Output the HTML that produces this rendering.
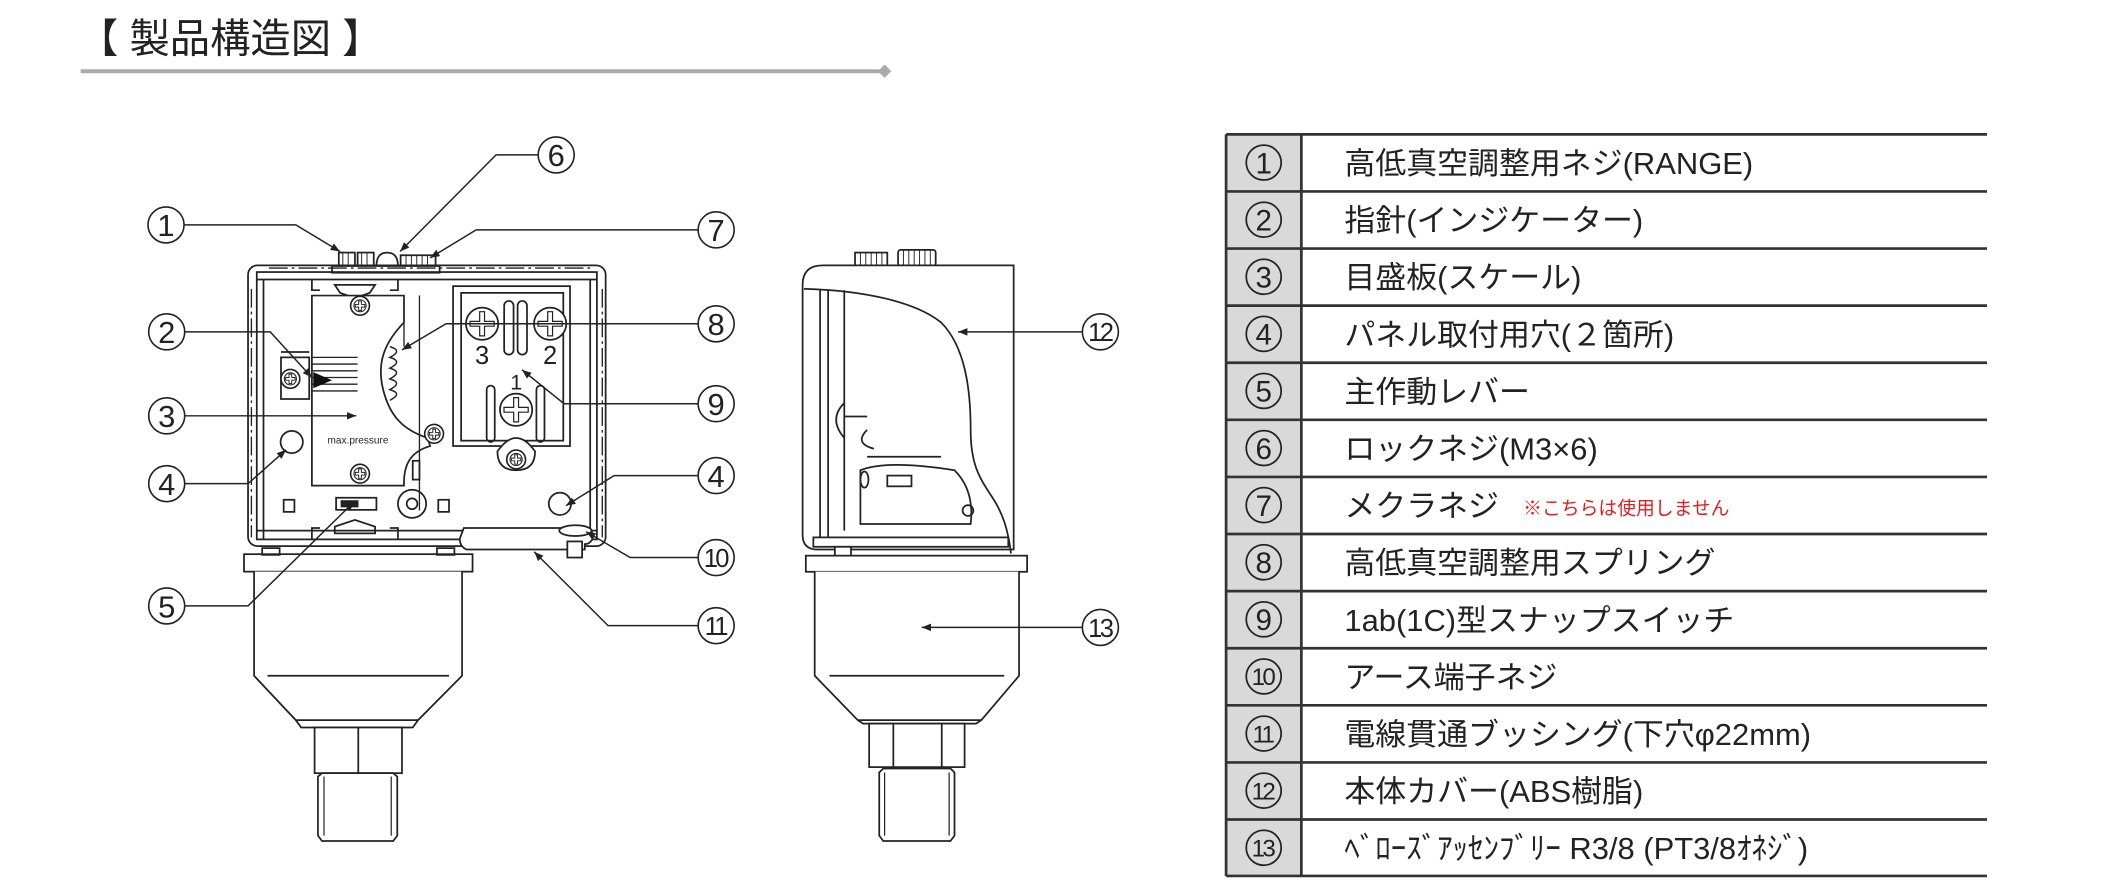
<!DOCTYPE html>
<html><head><meta charset="utf-8">
<style>
html,body{margin:0;padding:0;background:#fff;}
svg{display:block;}
text{font-family:"Liberation Sans","Noto Sans CJK JP",sans-serif;}
</style></head>
<body>
<svg width="2108" height="884" viewBox="0 0 1568 658" preserveAspectRatio="none" xmlns="http://www.w3.org/2000/svg">
<defs>
<marker id="ar" viewBox="0 0 10 10" refX="10" refY="5" markerWidth="7" markerHeight="7" orient="auto-start-reverse" markerUnits="userSpaceOnUse">
<path d="M0,1 L10,5 L0,9 z" fill="#222"/>
</marker>
<g id="scr"><circle r="7" fill="#fff" stroke="#222" stroke-width="1.2"/><circle r="4.5" fill="none" stroke="#222" stroke-width="0.8"/><path d="M-1,-3.5h2v2.5h2.5v2h-2.5v2.5h-2v-2.5h-2.5v-2h2.5z" fill="none" stroke="#222" stroke-width="0.7"/></g>
<g id="bscr"><circle r="12" fill="#fff" stroke="#222" stroke-width="1.3"/><path d="M-1.8,-9h3.6v7.2h7.2v3.6h-7.2v7.2h-3.6v-7.2h-7.2v-3.6h7.2z" fill="none" stroke="#222" stroke-width="0.9"/></g>
</defs>

<!-- Title -->
<text x="58" y="39" font-size="30" fill="#222">【 製品構造図 】</text>
<line x1="60" y1="53" x2="654" y2="53" stroke="#aaa" stroke-width="3"/>
<path d="M653,53 l5,-5 l5,5 l-5,5z" fill="#aaa"/>

<!-- ============ FRONT VIEW ============ -->
<g fill="none" stroke="#222" stroke-width="1.3">
<rect x="252" y="188" width="12" height="10" fill="#fff"/>
<rect x="266" y="188" width="12" height="10" fill="#fff"/>
<path d="M280,198 q0,-10 8,-10 q8,0 8,10" fill="#fff"/>
<rect x="298" y="190" width="26" height="9" fill="#fff"/>
<path d="M302,190v9M306,190v9M310,190v9M314,190v9M318,190v9M255,188v10M259,188v10M269,188v10M273,188v10" stroke-width="0.7"/>
<rect x="247" y="198" width="80" height="5" fill="#fff"/>
<rect x="184.5" y="197.5" width="266" height="209" rx="7"/>
<rect x="191" y="202.5" width="253" height="199"/>
<line x1="191" y1="208" x2="444" y2="208"/>
<line x1="196" y1="208" x2="196" y2="401"/>
<line x1="439" y1="208" x2="439" y2="401"/>
<line x1="191" y1="395" x2="444" y2="395"/>
<path d="M249,212 h30 l-4,6 l-11,4 l-11,-4z"/>
<path d="M232,208 v8 h6 M296,208 v8 h-6"/>
<path d="M232,220 H300.5 V240 C286,255 280,270 285,290 C290,310 300,320 318,326 L320,332 C306,336 300,345 300.5,361.5 H232 Z" fill="#fff"/>
<path d="M290,258 q10,3 0,8 q10,3 0,8 q10,3 0,8 q10,3 0,8 q10,3 0,8" stroke-width="1.1"/>
<path d="M300.5,240 L300.5,258 M312,220 V380" stroke-width="1"/>
<path d="M232,266h34M232,271h34M232,276h34M232,281h34M232,286h34M232,291h34" stroke-width="1"/>
<path d="M233,277 l14,6 l-14,6z" fill="#111" stroke="none"/>
<rect x="209" y="266" width="21" height="31" fill="#fff"/>
<line x1="209" y1="262" x2="230" y2="262"/>
<rect x="337" y="213" width="87" height="119" fill="#fff"/>
<rect x="343" y="218" width="76" height="110"/>
<rect x="375" y="224" width="7" height="40" rx="3.5"/>
<rect x="385" y="224" width="7" height="40" rx="3.5"/>
<rect x="362" y="287" width="6" height="42" rx="3"/>
<rect x="399" y="287" width="6" height="42" rx="3"/>
<path d="M370,336 q14,-20 28,0 q0,14 -14,14 q-14,0 -14,-14z" fill="#fff"/>
<rect x="250" y="370.5" width="30" height="9" fill="#fff"/>
<rect x="254" y="373" width="12" height="4" fill="#222"/>
<circle cx="306.5" cy="375" r="10.5"/>
<circle cx="306.5" cy="375" r="4"/>
<rect x="211" y="372" width="8" height="9"/>
<rect x="326" y="372" width="8" height="9"/>
<rect x="307" y="343" width="5" height="14"/>
<path d="M249,392 l15,-5 l15,5 v5 h-30z"/>
<path d="M232,401 v-8 h6 M296,401 v-8 h-6"/>
<circle cx="217" cy="329" r="8.3" fill="#fff"/>
<circle cx="416.5" cy="375" r="8.3" fill="#fff"/>
<path d="M345,393 h90 a6,6 0 0 1 0,12 v4 h-88 a8,8 0 0 1 -5,-8z" fill="#fff"/>
<ellipse cx="428" cy="395" rx="12" ry="4" fill="#fff"/>
<rect x="422" y="403" width="11" height="12" fill="#fff"/>
<rect x="181.5" y="412.5" width="170" height="13" fill="#fff"/>
<rect x="195" y="408" width="13" height="5"/>
<rect x="325" y="408" width="13" height="5"/>
<path d="M193,425.5 q0,8 10,8 q10,0 10,-8 M320,425.5 q0,8 10,8 q10,0 10,-8"/>
<path d="M189,425.5 V503 L220,536 L224,541.5 H307 L311,536 L343.7,503 V425.5" fill="#fff"/>
<line x1="199" y1="503" x2="334" y2="503"/>
<path d="M220,536 H311"/>
<rect x="234" y="541.5" width="65" height="34" fill="#fff"/>
<line x1="266.5" y1="541.5" x2="266.5" y2="575.5"/>
<path d="M236.5,578 l3,-2.5 h53 l3,2.5 V622 l-3,4 h-53 l-3,-4z" fill="#fff"/>
<path d="M241,578 V622 M291,578 V622" stroke-width="0.9"/>
</g>
<path d="M187,215 V400 M448,215 V400 M200,199.5 H440" fill="none" stroke="#222" stroke-width="1" stroke-dasharray="14,3,2,3"/>
<use href="#scr" x="267.8" y="227.6"/>
<use href="#scr" x="267.8" y="352.6"/>
<use href="#scr" x="216" y="282"/>
<use href="#scr" x="322.9" y="322.9"/>
<use href="#bscr" x="358.6" y="241"/>
<use href="#bscr" x="409.2" y="241"/>
<use href="#bscr" x="383.9" y="305"/>
<use href="#scr" x="383.9" y="342"/>
<text x="358.6" y="271" font-size="19" text-anchor="middle" fill="#222">3</text>
<text x="409.2" y="271" font-size="19" text-anchor="middle" fill="#222">2</text>
<text x="384" y="290" font-size="16" text-anchor="middle" fill="#222">1</text>
<text x="266.3" y="330" font-size="7.5" text-anchor="middle" fill="#222">max.pressure</text>

<!-- ============ SIDE VIEW ============ -->
<g fill="none" stroke="#222" stroke-width="1.3">
<rect x="636" y="188" width="24" height="10" fill="#fff"/>
<rect x="668" y="186" width="28" height="12" rx="2" fill="#fff"/>
<path d="M640,188v10M644,188v10M648,188v10M652,188v10M656,188v10M672,186v12M676,186v12M680,186v12M684,186v12M688,186v12M692,186v12" stroke-width="0.7"/>
<path d="M754,197.5 H612 Q597,197.5 597,212 V398 Q597,409 608,409 H754 Z" fill="#fff"/>
<path d="M598,215 C640,216 680,224 700,240 C718,258 722,290 722,320 C722,345 728,355 738,370 C746,382 750,395 752,412"/>
<path d="M610,216 V400 M616,216 V400 M628,216 V395"/>
<path d="M628,310 H645 M628,300 q-12,12 0,26 M645,320 q-10,10 5,14"/>
<path d="M645,340 H700 M640,350 q20,-8 70,0 q15,15 12,40 H640 Z" fill="#fff"/>
<rect x="660" y="354" width="18" height="8"/>
<ellipse cx="643" cy="357" rx="3" ry="6"/>
<circle cx="720" cy="380" r="4"/>
<rect x="605" y="400" width="145" height="7"/>
<rect x="621" y="407" width="12" height="12" fill="#fff"/>
<rect x="599.4" y="413.6" width="164.6" height="12" fill="#fff"/>
<path d="M608,425.5 q0,8 9,8 q9,0 9,-8 M736,425.5 q0,8 9,8 q9,0 9,-8"/>
<path d="M606,425.5 V503 L638,536 L642,538.6 H726 L730,536 L758,503 V425.5" fill="#fff"/>
<line x1="617" y1="503" x2="747" y2="503"/>
<line x1="638" y1="536" x2="730" y2="536"/>
<rect x="646.5" y="538.6" width="71" height="32.4" fill="#fff"/>
<path d="M664.5,538.6V571 M700.5,538.6V571"/>
<path d="M654,575 l3,-3 h50 l3,3 V622 l-3,4 h-50 l-3,-4z" fill="#fff"/>
<path d="M658,575 V622 M706,575 V622" stroke-width="0.9"/>
</g>

<!-- leaders -->
<g fill="none" stroke="#222" stroke-width="1.1">
<polyline points="136,167.4 220,167.4 252.9,187.2" marker-end="url(#ar)"/>
<polyline points="400.3,115.3 369,115.3 297.6,187.2" marker-end="url(#ar)"/>
<polyline points="519.3,171.1 354.2,171.1 320,191.9" marker-end="url(#ar)"/>
<polyline points="138,247 201,247 232,281" marker-end="url(#ar)"/>
<polyline points="138,309.5 265,309.5" marker-end="url(#ar)"/>
<polyline points="138,360 184.5,360 212.8,334.8" marker-end="url(#ar)"/>
<polyline points="138,451 184.5,451 263.4,373.5" marker-end="url(#ar)"/>
<polyline points="519.3,241 331.8,241 299,260.4" marker-end="url(#ar)"/>
<polyline points="519.3,300.5 419.6,300.5 388.3,275.3" marker-end="url(#ar)"/>
<polyline points="519.3,354 456.8,354 421,376.4" marker-end="url(#ar)"/>
<polyline points="519.3,415 468.7,415 436,395.8" marker-end="url(#ar)"/>
<polyline points="519.3,465.7 452.3,465.7 397.3,410.7" marker-end="url(#ar)"/>
<polyline points="805.7,247 712.6,247" marker-end="url(#ar)"/>
<polyline points="805.7,467 685.6,467" marker-end="url(#ar)"/>
</g>

<!-- label circles -->
<g fill="#fff" stroke="#222" stroke-width="1.2">
<circle cx="123.5" cy="167.4" r="13.4"/><circle cx="413.7" cy="115.3" r="13.4"/><circle cx="532.7" cy="171.1" r="13.4"/>
<circle cx="124" cy="247" r="13.4"/><circle cx="124" cy="309.5" r="13.4"/><circle cx="124" cy="360" r="13.4"/><circle cx="124" cy="451" r="13.4"/>
<circle cx="532.7" cy="241" r="13.4"/><circle cx="532.7" cy="300.5" r="13.4"/><circle cx="532.7" cy="354" r="13.4"/><circle cx="532.7" cy="415" r="13.4"/><circle cx="532.7" cy="465.7" r="13.4"/>
<circle cx="818.5" cy="247" r="13.4"/><circle cx="818.5" cy="467" r="13.4"/>
</g>
<g font-size="23" text-anchor="middle" fill="#222">
<text x="123.5" y="175.5">1</text><text x="413.7" y="123.5">6</text><text x="532.7" y="179.5">7</text>
<text x="124" y="255.5">2</text><text x="124" y="318">3</text><text x="124" y="368.5">4</text><text x="124" y="459.5">5</text>
<text x="532.7" y="249.5">8</text><text x="532.7" y="309">9</text><text x="532.7" y="362.5">4</text>
</g>
<g font-size="19" text-anchor="middle" fill="#222" letter-spacing="-2">
<text x="532" y="422">10</text><text x="532" y="472.5">11</text><text x="818" y="254">12</text><text x="818" y="474">13</text>
</g>

<!-- ============ TABLE ============ -->
<rect x="912" y="100" width="56" height="552" fill="#d9d9d9"/>
<g stroke="#333" stroke-width="2">
<line x1="912" y1="100" x2="1478" y2="100"/>
<line x1="912" y1="142.5" x2="1478" y2="142.5"/>
<line x1="912" y1="185" x2="1478" y2="185"/>
<line x1="912" y1="227.5" x2="1478" y2="227.5"/>
<line x1="912" y1="270" x2="1478" y2="270"/>
<line x1="912" y1="312.5" x2="1478" y2="312.5"/>
<line x1="912" y1="355" x2="1478" y2="355"/>
<line x1="912" y1="397.5" x2="1478" y2="397.5"/>
<line x1="912" y1="440" x2="1478" y2="440"/>
<line x1="912" y1="482.5" x2="1478" y2="482.5"/>
<line x1="912" y1="525" x2="1478" y2="525"/>
<line x1="912" y1="567.5" x2="1478" y2="567.5"/>
<line x1="912" y1="610" x2="1478" y2="610"/>
<line x1="912" y1="652" x2="1478" y2="652"/>
<line x1="912" y1="100" x2="912" y2="652"/>
<line x1="968" y1="100" x2="968" y2="652"/>
</g>
<g fill="none" stroke="#222" stroke-width="1.3">
<circle cx="940" cy="121" r="13"/><circle cx="940" cy="163.5" r="13"/><circle cx="940" cy="206" r="13"/><circle cx="940" cy="248.5" r="13"/><circle cx="940" cy="291" r="13"/><circle cx="940" cy="333.5" r="13"/><circle cx="940" cy="376" r="13"/><circle cx="940" cy="418.5" r="13"/><circle cx="940" cy="461" r="13"/><circle cx="940" cy="503.5" r="13"/><circle cx="940" cy="546" r="13"/><circle cx="940" cy="588.5" r="13"/><circle cx="940" cy="631" r="13"/>
</g>
<g font-size="22" text-anchor="middle" fill="#222">
<text x="940" y="129">1</text><text x="940" y="171.5">2</text><text x="940" y="214">3</text><text x="940" y="256.5">4</text><text x="940" y="299">5</text><text x="940" y="341.5">6</text><text x="940" y="384">7</text><text x="940" y="426.5">8</text><text x="940" y="469">9</text>
</g>
<g font-size="18" text-anchor="middle" fill="#222" letter-spacing="-2">
<text x="939" y="510">10</text><text x="939" y="552.5">11</text><text x="939" y="595">12</text><text x="939" y="637.5">13</text>
</g>
<g font-size="23" fill="#222">
<text x="1000" y="129.5">高低真空調整用ネジ(RANGE)</text>
<text x="1000" y="172">指針(インジケーター)</text>
<text x="1000" y="214.5">目盛板(スケール)</text>
<text x="1000" y="257">パネル取付用穴(２箇所)</text>
<text x="1000" y="299.5">主作動レバー</text>
<text x="1000" y="342">ロックネジ(M3×6)</text>
<text x="1000" y="384.5">メクラネジ</text>
<text x="1000" y="427">高低真空調整用スプリング</text>
<text x="1000" y="469.5">1ab(1C)型スナップスイッチ</text>
<text x="1000" y="512">アース端子ネジ</text>
<text x="1000" y="554.5">電線貫通ブッシング(下穴φ22mm)</text>
<text x="1000" y="597">本体カバー(ABS樹脂)</text>
<text x="1000" y="639.5">ﾍﾞﾛｰｽﾞｱｯｾﾝﾌﾞﾘｰ  R3/8 (PT3/8ｵﾈｼﾞ)</text>
</g>
<text x="1133" y="383" font-size="14" fill="#e02020">※こちらは使用しません</text>
</svg>
</body></html>
